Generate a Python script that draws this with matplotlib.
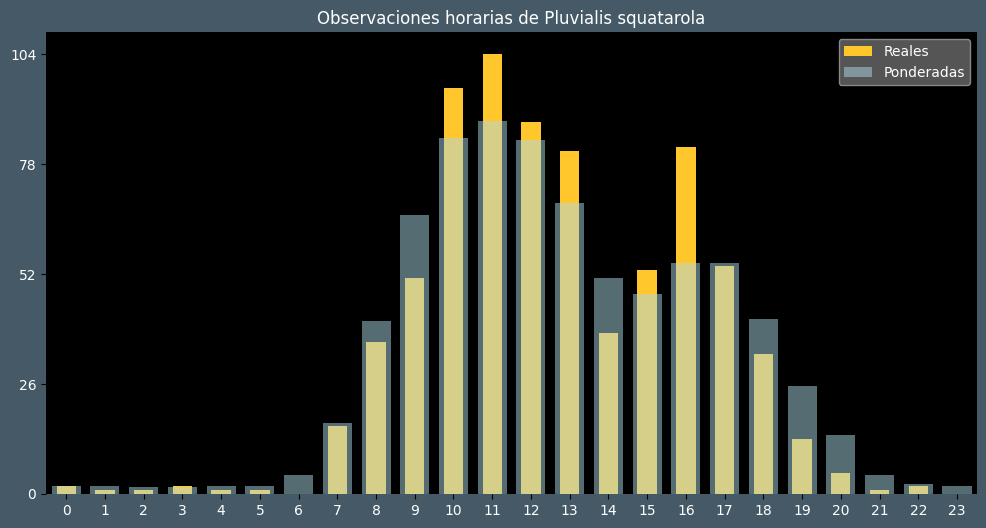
import matplotlib
matplotlib.use("Agg")
import matplotlib.pyplot as plt
import numpy as np

horas = list(range(24))
reales = [2, 1, 1, 2, 1, 1, 0, 16, 36, 51, 96, 104, 88, 81,
          38, 53, 82, 54, 33, 13, 5, 1, 2, 0]
ponderadas = [1.9, 1.9, 1.6, 1.6, 1.9, 1.9, 4.5, 16.8, 41, 66, 84.1, 88.1, 83.6, 68.7,
              51, 47.4, 54.7, 54.7, 41.5, 25.6, 14, 4.5, 2.4, 1.9]
yticks = [0, 26, 52, 78, 104]

fondo = "#455a66"
fig = plt.figure(figsize=(9.86, 5.28), dpi=100, facecolor=fondo)
ax = fig.add_axes([0.0467, 0.0644, 0.9443, 0.8746])
ax.set_facecolor("black")

x = np.array(horas)
ax.bar(x, reales, width=0.5, color="#ffc72c", label="Reales", zorder=2)
ax.bar(x, ponderadas, width=0.75, color="lightblue", alpha=0.5, label="Ponderadas", zorder=3)

ax.set_xlim(-0.52, 23.52)
ax.set_ylim(0, 104 * 1.05)
ax.set_xticks(horas)
ax.set_yticks(yticks)
ax.tick_params(colors="black", labelcolor="white", labelsize=10)
for s in ax.spines.values():
    s.set_visible(False)

ax.set_title("Observaciones horarias de Pluvialis squatarola", color="white", fontsize=12)
leg = ax.legend(loc="upper right", facecolor="#555555", edgecolor="#888888",
                labelcolor="white", fontsize=10, framealpha=1)

fig.savefig("out.png", dpi=100, facecolor=fondo)
